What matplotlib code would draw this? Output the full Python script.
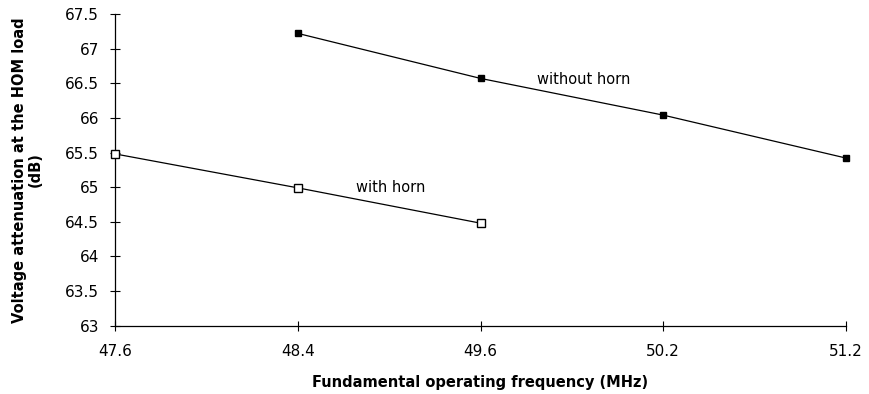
import matplotlib
matplotlib.use("Agg")
import matplotlib.pyplot as plt

plt.rcParams['font.family'] = ['DejaVu Sans']

# category axis (evenly spaced, like the original spreadsheet chart)
freqs = ["47.6", "48.4", "49.6", "50.2", "51.2"]
with_horn = [65.48, 64.99, 64.48]            # at 47.6, 48.4, 49.6
without_horn = [67.22, 66.57, 66.04, 65.42]  # at 48.4, 49.6, 50.2, 51.2

fig = plt.figure(figsize=(8.7, 3.94), dpi=100)
ax = fig.add_axes([0.1322, 0.1734, 0.8402, 0.7911])

xw = list(range(0, len(with_horn)))
xwo = list(range(1, 1 + len(without_horn)))

ax.plot(xw, with_horn, color="black", lw=0.9, marker="s", markersize=6,
        markerfacecolor="white", markeredgecolor="black", markeredgewidth=1.0,
        clip_on=False, zorder=3)
ax.plot(xwo, without_horn, color="black", lw=0.9, marker="s", markersize=5,
        markerfacecolor="black", markeredgecolor="black",
        clip_on=False, zorder=3)

ax.text(2.31, 66.55, "without horn", fontsize=10.5, va="center", ha="left")
ax.text(1.32, 65.0, "with horn", fontsize=10.5, va="center", ha="left")

ax.set_xlim(0, len(freqs) - 1)
ax.set_ylim(63, 67.5)
ax.set_xticks(range(len(freqs)))
ax.set_xticklabels(freqs)
ax.set_yticks([63 + 0.5 * i for i in range(10)])
ax.set_yticklabels(["63", "63.5", "64", "64.5", "65", "65.5", "66", "66.5", "67", "67.5"])

ax.tick_params(axis="both", direction="inout", length=7, width=0.8,
               labelsize=11, color="black")
ax.tick_params(axis="y", pad=8)
ax.tick_params(axis="x", pad=10)

for s in ["top", "right"]:
    ax.spines[s].set_visible(False)
for s in ["left", "bottom"]:
    ax.spines[s].set_linewidth(0.9)

ax.set_xlabel("Fundamental operating frequency (MHz)", fontsize=10.5,
              fontweight="bold", labelpad=11)
ax.set_ylabel("Voltage attenuation at the HOM load\n(dB)", fontsize=10.5,
              fontweight="bold", labelpad=16, linespacing=1.1)

fig.savefig("out.png", dpi=100)
plt.close(fig)
